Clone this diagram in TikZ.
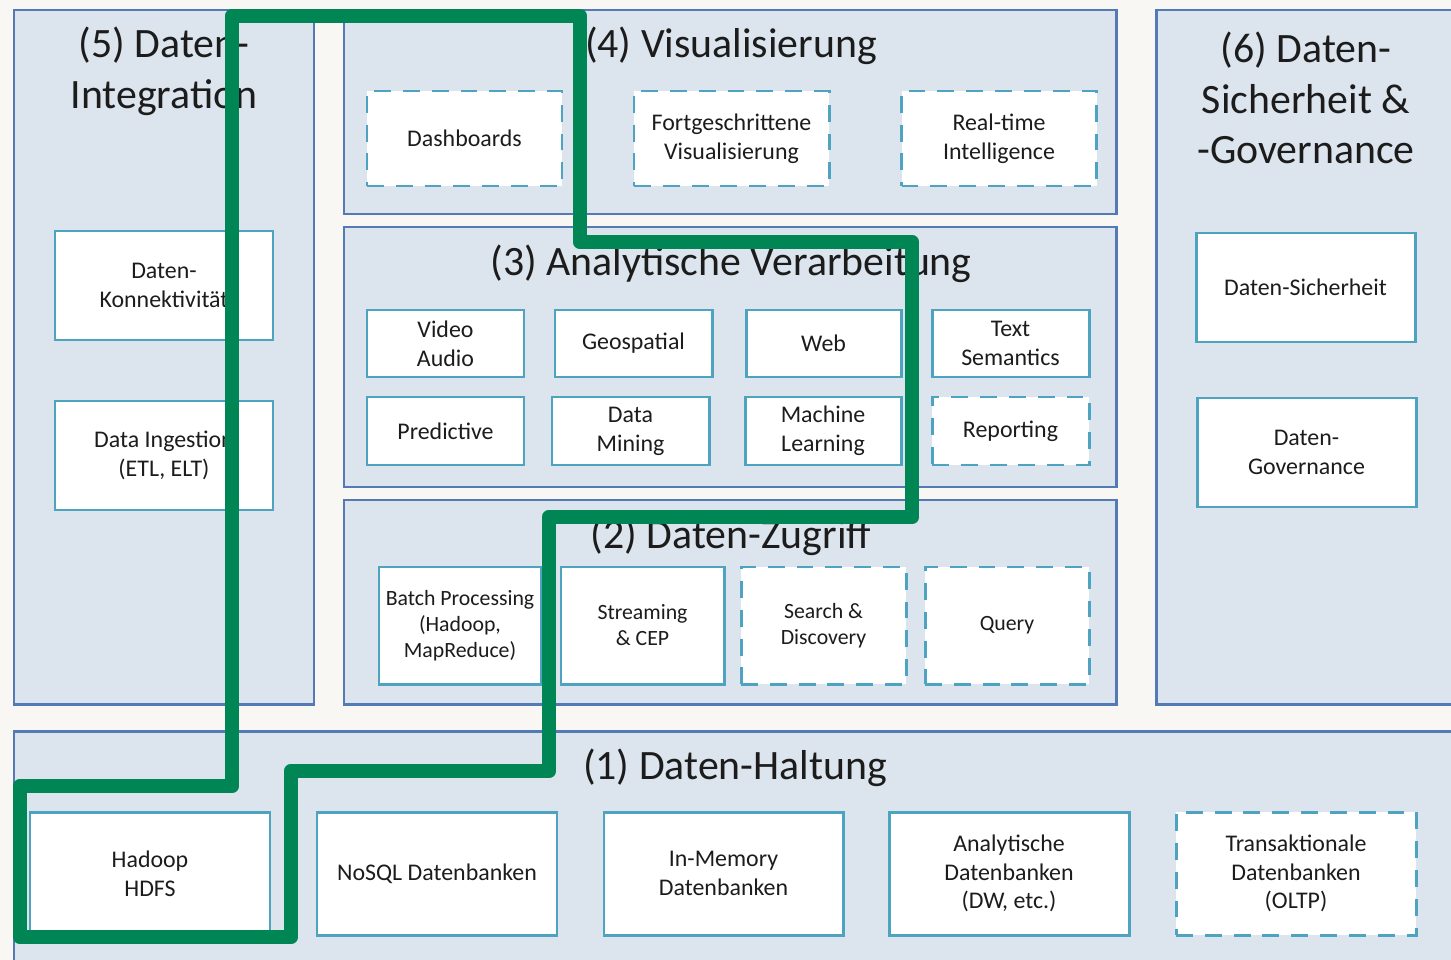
\documentclass[tikz,border=0pt]{standalone}
\usepackage{fontspec}
\setmainfont{Carlito}
\usepackage{tikz}
\definecolor{pagebg}{RGB}{248,247,244}
\definecolor{panelfill}{RGB}{220,228,237}
\definecolor{panelline}{RGB}{84,122,182}
\definecolor{boxline}{RGB}{78,164,192}
\definecolor{pathgreen}{RGB}{0,134,84}
\definecolor{txt}{RGB}{28,28,28}
\tikzset{
	panel/.style={draw=panelline,fill=panelfill,line width=1.7pt},
	paneltitle/.style={text=txt,align=center,font=\fontsize{23.8}{28.9}\selectfont},
	solidbox/.style 2 args={draw=boxline,fill=white,line width=1.7pt,text=txt,align=center,
		minimum width=#1*0.02cm,minimum height=#2*0.02cm,inner sep=0pt,
		font=\fontsize{13.6}{16.4}\selectfont},
	dashbox/.style 2 args={solidbox={#1}{#2},dash pattern=on 9.6pt off 6.8pt},
	smalltext/.style={font=\fontsize{12.4}{14.8}\selectfont}
}

\begin{document}
\begin{tikzpicture}[x=0.02cm,y=-0.02cm]
	\useasboundingbox (0,0) rectangle (1451,960);
	\clip (0,0) rectangle (1451,960);
	\fill[pagebg] (0,0) rectangle (1451,960);

	%PANELS
	\draw[panel] (14,10) rectangle (314,704);
	\draw[panel] (344,10) rectangle (1116,214);
	\draw[panel] (344,227) rectangle (1116,487);
	\draw[panel] (344,500) rectangle (1116,704);
	\draw[panel] (1156,10) rectangle (1470,704);
	\draw[panel] (14,731) rectangle (1470,980);

	%TITLES
	\node[paneltitle] (t5) at (164,71) {(5) Daten-\\Integration};
	\node[paneltitle] (t4) at (731,46) {(4) Visualisierung};
	\node[paneltitle] (t3) at (731,264) {(3) Analytische Verarbeitung};
	\node[paneltitle] (t2) at (731,537) {(2) Daten-Zugriff};
	\node[paneltitle] (t6) at (1306,98) {(6) Daten-\\Sicherheit \&\\-Governance};
	\node[paneltitle] (t1) at (735,768) {(1) Daten-Haltung};

	%(5) INTEGRATION
	\node[solidbox={218}{109}] (konn) at (164,285.5) {Daten-\\Konnektivität};
	\node[solidbox={218}{109}] (ingest) at (164,455.5) {Data Ingestion\\(ETL, ELT)};

	%(4) VISUALISIERUNG
	\node[dashbox={195}{95}] (dash) at (464.5,138.5) {Dashboards};
	\node[dashbox={195}{95}] (fvis) at (731.5,138.5) {Fortgeschrittene\\Visualisierung};
	\node[dashbox={195}{95}] (rti) at (999,138.5) {Real-time\\Intelligence};

	%(3) ANALYTISCHE VERARBEITUNG
	\node[solidbox={157}{67}] (video) at (445.5,343.5) {Video\\Audio};
	\node[solidbox={157}{67}] (geo) at (633.5,343.5) {Geospatial};
	\node[solidbox={155}{67}] (web) at (823.5,343.5) {Web};
	\node[solidbox={157}{67}] (sem) at (1010.5,343.5) {Text\\Semantics};
	\node[solidbox={157}{68}] (pred) at (445.5,431) {Predictive};
	\node[solidbox={157}{68}] (mining) at (630.5,431) {Data\\Mining};
	\node[solidbox={156}{68}] (ml) at (823,431) {Machine\\Learning};
	\node[dashbox={157}{68}] (rep) at (1010.5,431) {Reporting};

	%(2) DATEN-ZUGRIFF
	\node[solidbox={162}{117},smalltext] (batch) at (460,625.5) {Batch Processing\\(Hadoop,\\MapReduce)};
	\node[solidbox={163}{117},smalltext] (stream) at (642.5,625.5) {Streaming\\\& CEP};
	\node[dashbox={165}{117},smalltext] (search) at (823.5,625.5) {Search \&\\Discovery};
	\node[dashbox={164}{117},smalltext] (query) at (1007,625.5) {Query};

	%(6) SICHERHEIT
	\node[solidbox={219}{109}] (sich) at (1305.5,287.5) {Daten-Sicherheit};
	\node[solidbox={219}{109}] (gov) at (1306.5,452.5) {Daten-\\Governance};

	%(1) DATEN-HALTUNG
	\node[solidbox={240}{123}] (hdfs) at (150,873.5) {Hadoop\\HDFS};
	\node[solidbox={240}{123}] (nosql) at (437,873.5) {NoSQL Datenbanken};
	\node[solidbox={239}{123}] (inmem) at (723.5,873.5) {In-Memory\\Datenbanken};
	\node[solidbox={240}{123}] (adb) at (1009,873.5) {Analytische\\Datenbanken\\(DW, etc.)};
	\node[dashbox={240}{123}] (oltp) at (1296,873.5) {Transaktionale\\Datenbanken\\(OLTP)};

	%GREEN OUTLINE
	\draw[pathgreen,line width=8.5pt,line join=round] (232,16)--(580,16)--(580,242)--(912,242)--(912,517)--(549,517)--(549,771)--(291,771)--(291,937)--(20,937)--(20,786)--(232,786)--cycle;
\end{tikzpicture}
\end{document}
